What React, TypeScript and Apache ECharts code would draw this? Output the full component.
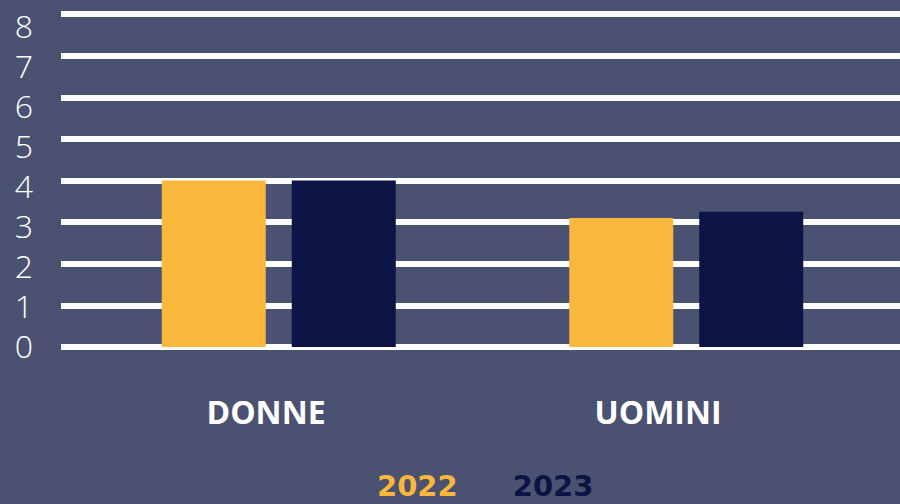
import React, { useEffect, useRef } from "react";
import * as echarts from "echarts";

const categories = ["DONNE", "UOMINI"];
const seriesNames = ["2022", "2023"];
const values2022 = [4.0, 3.1];
const values2023 = [4.0, 3.25];
const yMin = 0;
const yMax = 8;
const yInterval = 1;

const BG = "#4b5170";
const YELLOW = "#f9b83b";
const NAVY = "#0c1445";
const FONT = "'Open Sans', 'Noto Sans', sans-serif";

export default function App() {
  const ref = useRef<HTMLDivElement>(null);
  useEffect(() => {
    if (!ref.current) return;
    const chart = echarts.init(ref.current, undefined, { renderer: "svg" });
    const hiddenY = { type: "value", min: yMin, max: yMax, interval: yInterval, show: false };
    chart.setOption({
      animation: false,
      backgroundColor: BG,
      grid: [
        { left: 61, right: 0, top: 14, bottom: 157 },
        { left: 75, right: 10, top: 14, bottom: 157 },
        { left: 70, right: 46, top: 25, bottom: 159 },
      ],
      xAxis: [
        { type: "category", gridIndex: 0, data: categories, show: false },
        { type: "category", gridIndex: 1, data: categories, show: false },
        {
          type: "category",
          gridIndex: 2,
          data: categories,
          axisLine: { show: false },
          axisTick: { show: false },
          axisLabel: {
            color: "#ffffff",
            fontFamily: FONT,
            fontWeight: "bold",
            fontSize: 32,
            margin: 50,
          },
        },
      ],
      yAxis: [
        {
          type: "value",
          gridIndex: 0,
          min: yMin,
          max: yMax,
          interval: yInterval,
          axisLine: { show: false },
          axisTick: { show: false },
          axisLabel: { show: false },
          splitLine: { show: true, lineStyle: { color: "#ffffff", width: 6 } },
        },
        { ...hiddenY, gridIndex: 1 },
        {
          type: "value",
          gridIndex: 2,
          min: yMin,
          max: yMax,
          interval: yInterval,
          axisLine: { show: false },
          axisTick: { show: false },
          splitLine: { show: false },
          axisLabel: {
            color: "#ffffff",
            fontFamily: FONT,
            fontWeight: 300,
            fontSize: 32,
            align: "right",
            margin: 37,
          },
        },
      ],
      legend: {
        left: 372,
        top: 470,
        padding: 0,
        icon: "none",
        itemWidth: 0,
        itemGap: 50,
        data: [
          { name: seriesNames[0], textStyle: { color: YELLOW } },
          { name: seriesNames[1], textStyle: { color: NAVY } },
        ],
        textStyle: {
          fontFamily: "'DejaVu Sans', sans-serif",
          fontWeight: "bold",
          fontSize: 29,
          lineHeight: 32,
        },
      },
      series: [
        {
          name: seriesNames[0],
          type: "bar",
          xAxisIndex: 1,
          yAxisIndex: 1,
          data: values2022,
          barWidth: 104,
          barGap: "25%",
          itemStyle: { color: YELLOW },
        },
        {
          name: seriesNames[1],
          type: "bar",
          xAxisIndex: 1,
          yAxisIndex: 1,
          data: values2023,
          barWidth: 104,
          barGap: "25%",
          itemStyle: { color: NAVY },
        },
      ],
    });
    return () => chart.dispose();
  }, []);
  return <div ref={ref} style={{ width: 900, height: 504, position: "fixed", left: 0, top: 0 }} />;
}
